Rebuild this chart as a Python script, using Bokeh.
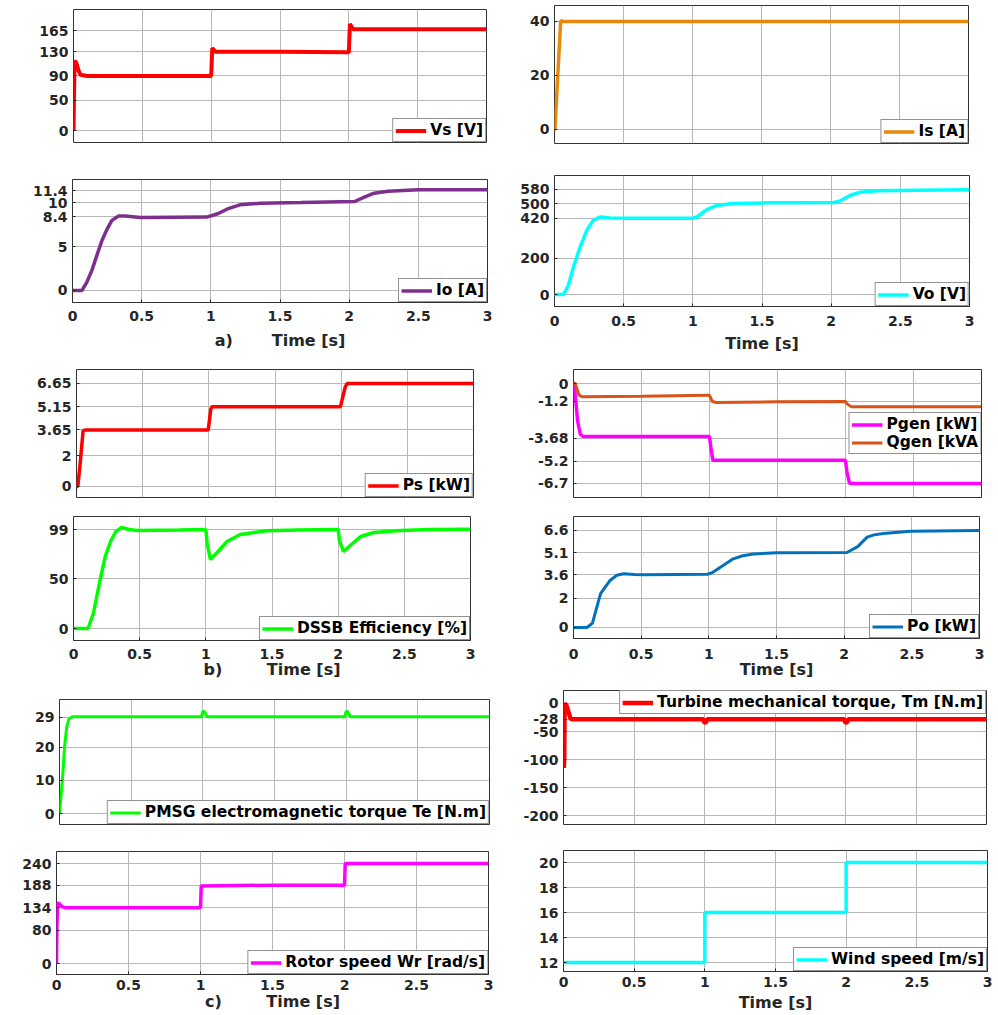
from bokeh.plotting import figure
from bokeh.layouts import row, column
from bokeh.models import Range1d, FixedTicker, Legend, LegendItem, CustomJSTickFormatter
from bokeh.embed import file_html
from bokeh.resources import INLINE

# ---------------- data ----------------
x_ticks = [0, 0.5, 1, 1.5, 2, 2.5, 3]
x_tick_labels = ["0", "0.5", "1", "1.5", "2", "2.5", "3"]

vs_t = [0, 0.004, 0.008, 0.02, 0.035, 0.05, 0.1, 0.5, 0.995, 1.0, 1.008, 1.03, 1.5, 1.995, 2.0, 2.008, 2.03, 2.5, 3.0]
vs_v = [0, 60, 115, 112, 100, 92, 90, 90, 90, 90, 136, 130, 130, 129, 129, 176, 167, 167, 167]

is_t = [0, 0.003, 0.045, 0.06, 3.0]
is_v = [0, 0, 40.3, 40, 40]

io_t = [0, 0.068, 0.104, 0.14, 0.176, 0.213, 0.25, 0.285, 0.333, 0.38, 0.49, 0.97, 1.05, 1.12, 1.21, 1.36, 1.65, 2.04, 2.11, 2.18, 2.28, 2.5, 3.0]
io_v = [0, 0, 0.95, 2.3, 4.0, 5.7, 7.0, 8.0, 8.5, 8.5, 8.33, 8.37, 8.75, 9.3, 9.77, 9.96, 10.04, 10.15, 10.65, 11.1, 11.33, 11.48, 11.48]

vo_t = [0, 0.065, 0.1, 0.137, 0.185, 0.234, 0.28, 0.33, 0.4, 0.57, 1.0, 1.03, 1.1, 1.17, 1.29, 1.53, 2.02, 2.06, 2.14, 2.21, 2.33, 2.62, 3.0]
vo_v = [0, 0, 50, 152, 262, 355, 410, 428, 423, 421, 421, 428, 469, 491, 502, 506, 508, 515, 548, 565, 573, 576, 578]

ps_t = [0, 0.01, 0.03, 0.05, 0.07, 0.5, 0.995, 1.005, 1.015, 1.025, 1.5, 1.995, 2.01, 2.03, 2.045, 3.0]
ps_v = [0, 0, 1.7, 3.6, 3.65, 3.65, 3.65, 4.3, 5.0, 5.15, 5.15, 5.15, 5.7, 6.4, 6.65, 6.65]

pg_t = [0, 0.01, 0.03, 0.05, 0.07, 1.0, 1.01, 1.025, 2.0, 2.01, 2.03, 3.0]
pg_v = [0, -0.5, -2.5, -3.4, -3.55, -3.55, -4.3, -5.15, -5.15, -5.9, -6.7, -6.7]

qg_t = [0, 0.01, 0.02, 0.04, 0.06, 0.5, 0.99, 1.0, 1.02, 1.05, 1.5, 2.0, 2.01, 2.04, 2.5, 3.0]
qg_v = [0, 0.05, -0.2, -0.75, -0.88, -0.85, -0.78, -0.8, -1.2, -1.27, -1.22, -1.2, -1.35, -1.55, -1.55, -1.55]

ef_t = [0, 0.11, 0.15, 0.2, 0.24, 0.28, 0.32, 0.365, 0.42, 0.48, 0.8, 1.0, 1.01, 1.035, 1.1, 1.16, 1.26, 1.46, 1.7, 2.0, 2.01, 2.04, 2.1, 2.17, 2.27, 2.47, 2.7, 3.0]
ef_v = [0, 0, 15, 48, 72, 87, 97, 101, 99, 98, 98.5, 99, 85, 69, 78, 87, 94, 97.7, 98.5, 99, 88, 77, 84, 92, 96, 98, 99, 99.3]

po_t = [0, 0.1, 0.14, 0.2, 0.27, 0.32, 0.37, 0.45, 0.52, 0.99, 1.03, 1.08, 1.18, 1.25, 1.33, 1.5, 2.02, 2.1, 2.17, 2.22, 2.29, 2.49, 3.0]
po_v = [0, 0, 0.3, 2.3, 3.2, 3.55, 3.66, 3.6, 3.58, 3.62, 3.75, 4.07, 4.67, 4.88, 5.0, 5.08, 5.1, 5.5, 6.15, 6.3, 6.4, 6.55, 6.6]

te_t = [0, 0.02, 0.035, 0.05, 0.065, 0.09, 0.5, 0.99, 1.0, 1.01, 1.03, 1.99, 2.0, 2.01, 2.03, 3.0]
te_v = [0, 10, 20, 26, 28.5, 29.2, 29.2, 29.2, 30.8, 30.8, 29.2, 29.2, 30.8, 30.8, 29.2, 29.2]

tm_t = [0, 0.002, 0.005, 0.008, 0.02, 0.035, 0.05, 0.06, 0.99, 1.0, 1.01, 1.02, 1.99, 2.0, 2.01, 2.02, 3.0]
tm_v = [0, -115, -100, 0, -3, -15, -27, -28, -28, -34, -34, -28, -28, -34, -34, -28, -28]

wr_t = [0, 0.003, 0.008, 0.015, 0.025, 0.04, 0.06, 0.5, 0.995, 1.0, 1.005, 1.5, 1.995, 2.0, 2.005, 3.0]
wr_v = [0, 90, 143, 146, 141, 136, 134, 134, 134, 134, 186, 188, 188, 188, 240, 240]

ws_t = [0, 1, 1, 2, 2, 3]
ws_v = [12, 12, 16, 16, 20, 20]

vs_ticks, vs_labels = [0, 50, 90, 130, 165], ["0", "50", "90", "130", "165"]
is_ticks, is_labels = [0, 20, 40], ["0", "20", "40"]
io_ticks, io_labels = [0, 5, 8.4, 10, 11.4], ["0", "5", "8.4", "10", "11.4"]
vo_ticks, vo_labels = [0, 200, 420, 500, 580], ["0", "200", "420", "500", "580"]
ps_ticks, ps_labels = [0, 2, 3.65, 5.15, 6.65], ["0", "2", "3.65", "5.15", "6.65"]
pg_ticks, pg_labels = [-6.7, -5.2, -3.68, -1.2, 0], ["-6.7", "-5.2", "-3.68", "-1.2", "0"]
ef_ticks, ef_labels = [0, 50, 99], ["0", "50", "99"]
po_ticks, po_labels = [0, 2, 3.6, 5.1, 6.6], ["0", "2", "3.6", "5.1", "6.6"]
te_ticks, te_labels = [0, 10, 20, 29], ["0", "10", "20", "29"]
tm_ticks, tm_labels = [-200, -150, -100, -50, -28, 0], ["-200", "-150", "-100", "-50", "-28", "0"]
wr_ticks, wr_labels = [0, 80, 134, 188, 240], ["0", "80", "134", "188", "240"]
ws_ticks, ws_labels = [12, 14, 16, 18, 20], ["12", "14", "16", "18", "20"]

# ---------------- styling helpers ----------------
FONT = "DejaVu Sans"
INK = "#262626"
GRID = "#b8b8b8"
NB = "\u00a0"

FMT_CODE = """
for (let i = 0; i < vals.length; i++) {
  if (Math.abs(vals[i] - tick) < 1e-9) { return labs[i]; }
}
return '';
"""


def make_fig(ml, fw, mr, mt, fh, mb, yr, yt, ytl, xlabel=None, xshow=False, lab_so=4, ax_so=0):
    p = figure(frame_width=fw, frame_height=fh,
               min_border_left=ml, min_border_right=mr,
               min_border_top=mt, min_border_bottom=mb,
               x_range=Range1d(0, 3), y_range=Range1d(*yr),
               output_backend="svg", toolbar_location=None)
    p.frame_align = False
    p.background_fill_color = "white"
    p.border_fill_color = "white"
    p.outline_line_color = "#333333"
    p.outline_line_width = 1
    p.xgrid.ticker = FixedTicker(ticks=x_ticks)
    p.ygrid.ticker = FixedTicker(ticks=yt)
    for g in (p.xgrid[0], p.ygrid[0]):
        g.grid_line_color = GRID
        g.grid_line_width = 1
    ya = p.yaxis[0]
    ya.ticker = FixedTicker(ticks=yt)
    ya.formatter = CustomJSTickFormatter(args=dict(vals=yt, labs=ytl), code=FMT_CODE)
    xa = p.xaxis[0]
    xa.ticker = FixedTicker(ticks=x_ticks)
    xa.formatter = CustomJSTickFormatter(args=dict(vals=x_ticks, labs=x_tick_labels), code=FMT_CODE)
    for a in (xa, ya):
        a.axis_line_color = None
        a.major_tick_in = 3
        a.major_tick_out = 0
        a.major_tick_line_color = INK
        a.minor_tick_line_color = None
        a.major_label_text_font = FONT
        a.major_label_text_font_style = "bold"
        a.major_label_text_font_size = "14px"
        a.major_label_text_color = INK
    ya.major_label_standoff = 5
    if xshow:
        xa.major_label_standoff = lab_so
        if xlabel:
            xa.axis_label = xlabel
            xa.axis_label_text_font = FONT
            xa.axis_label_text_font_style = "bold"
            xa.axis_label_text_font_size = "16px"
            xa.axis_label_text_color = INK
            xa.axis_label_standoff = ax_so
    else:
        xa.visible = False
    return p


def add_line(p, t, v, color, lw):
    return p.line(t, v, line_color=color, line_width=lw)


def add_legend(p, pairs, loc):
    leg = Legend(items=[LegendItem(label=lab, renderers=[r]) for lab, r in pairs],
                 location=loc, margin=0, padding=2, spacing=0,
                 label_text_font=FONT, label_text_font_style="bold",
                 label_text_font_size="15.5px", label_text_color="black",
                 border_line_color="#262626", border_line_width=1,
                 background_fill_color="white", background_fill_alpha=1,
                 glyph_width=31, glyph_height=15, label_height=15, label_standoff=4)
    p.add_layout(leg)


# ---------------- left column (x 0..500) ----------------
L1 = make_fig(73, 413, 14, 9, 133, 18, (-19.8, 199.7), vs_ticks, vs_labels)
r = add_line(L1, vs_t, vs_v, "#ff0000", 4)
add_legend(L1, [("Vs [V]", r)], "bottom_right")

L2 = make_fig(72, 415, 13, 19, 123, 53, (-1.37, 12.66), io_ticks, io_labels,
              xlabel="a)" + NB * 7 + "Time [s]", xshow=True, lab_so=8, ax_so=7)
r = add_line(L2, io_t, io_v, "#7e2f8e", 3.5)
add_legend(L2, [("Io [A]", r)], "bottom_right")

L3 = make_fig(76, 397, 27, 14, 128, 8, (-0.71, 7.55), ps_ticks, ps_labels)
r = add_line(L3, ps_t, ps_v, "#ff0000", 3.5)
add_legend(L3, [("Ps [kW]", r)], "bottom_right")

L4 = make_fig(73, 397, 30, 11, 124, 42, (-12, 112), ef_ticks, ef_labels,
              xlabel="b)" + NB * 8 + "Time [s]", xshow=True, lab_so=8, ax_so=-2)
r = add_line(L4, ef_t, ef_v, "#00ff00", 3.5)
add_legend(L4, [("DSSB Efficiency [%]", r)], "bottom_right")

L5 = make_fig(59, 430, 11, 17, 125, 16, (-3.3, 34.4), te_ticks, te_labels)
r = add_line(L5, te_t, te_v, "#00ff00", 3)
add_legend(L5, [("PMSG electromagnetic torque Te [N.m]", r)], "bottom_right")

L6 = make_fig(56, 432, 12, 11, 123, 40, (-26.4, 268.8), wr_ticks, wr_labels,
              xlabel="c)" + NB * 8 + "Time [s]", xshow=True, lab_so=5, ax_so=-1)
r = add_line(L6, wr_t, wr_v, "#ff00ff", 3.5)
add_legend(L6, [("Rotor speed Wr [rad/s]", r)], "bottom_right")

# ---------------- right column (x 500..998) ----------------
R1 = make_fig(54, 414, 30, 5, 138, 17, (-5.2, 45.9), is_ticks, is_labels)
r = add_line(R1, is_t, is_v, "#e8890c", 3.5)
add_legend(R1, [("Is [A]", r)], "bottom_right")

R2 = make_fig(54, 415, 29, 15, 131, 49, (-66, 657), vo_ticks, vo_labels,
              xlabel="Time [s]", xshow=True, lab_so=9, ax_so=5)
r = add_line(R2, vo_t, vo_v, "#00ffff", 3.5)
add_legend(R2, [("Vo [V]", r)], "bottom_right")

R3 = make_fig(73, 408, 17, 14, 128, 8, (-7.64, 0.94), pg_ticks, pg_labels)
r1 = add_line(R3, pg_t, pg_v, "#ff00ff", 3.5)
r2 = add_line(R3, qg_t, qg_v, "#d95319", 3)
add_legend(R3, [("Pgen [kW]", r1), ("Qgen [kVA", r2)], "center_right")

R4 = make_fig(73, 406, 19, 11, 122, 44, (-0.75, 7.55), po_ticks, po_labels,
              xlabel="Time [s]", xshow=True, lab_so=10, ax_so=-2)
r = add_line(R4, po_t, po_v, "#0072bd", 3)
add_legend(R4, [("Po [kW]", r)], "bottom_right")

R5 = make_fig(63, 423, 12, 8, 134, 16, (-216, 23.2), tm_ticks, tm_labels)
r = add_line(R5, tm_t, tm_v, "#ff0000", 4.5)
add_legend(R5, [("Turbine mechanical torque, Tm [N.m]", r)], "top_right")

R6 = make_fig(63, 424, 11, 10, 121, 43, (11.28, 20.96), ws_ticks, ws_labels,
              xlabel="Time [s]", xshow=True, lab_so=5, ax_so=3)
r = add_line(R6, ws_t, ws_v, "#00ffff", 3.5)
add_legend(R6, [("Wind speed [m/s]", r)], "bottom_right")

layout = row(column(L1, L2, L3, L4, L5, L6), column(R1, R2, R3, R4, R5, R6))

open("out.html", "w").write(file_html(layout, INLINE))
